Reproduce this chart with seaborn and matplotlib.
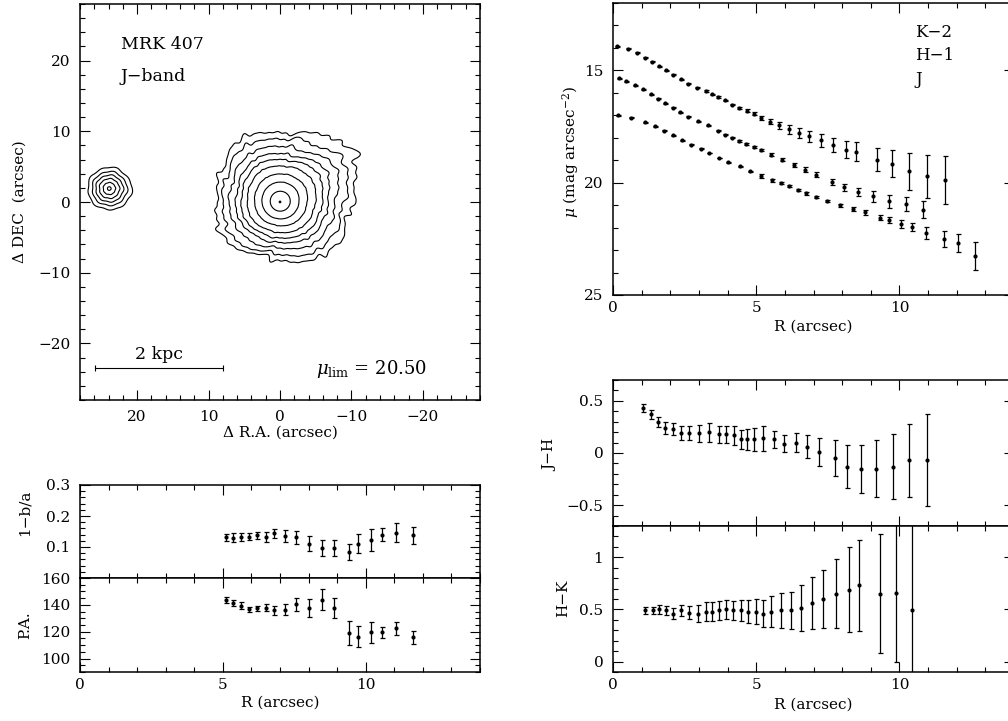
import numpy as np
import pandas as pd
import seaborn as sns
import matplotlib
matplotlib.use("Agg")
import matplotlib.pyplot as plt
from matplotlib.ticker import MultipleLocator, FixedLocator, FuncFormatter

# ---------------- data ----------------
# surface-brightness profiles (top right)
r_K = [0.13, 0.51, 0.85, 1.13, 1.37, 1.60, 1.85, 2.10, 2.37, 2.63, 2.94, 3.23, 3.44, 3.66, 3.92, 4.15, 4.41,
       4.67, 4.92, 5.18, 5.49, 5.78, 6.14, 6.48, 6.85, 7.25, 7.69, 8.14, 8.49, 9.21, 9.74, 10.32, 10.97, 11.60]
mu_K = [13.92, 14.03, 14.21, 14.43, 14.61, 14.81, 15.00, 15.19, 15.40, 15.60, 15.77, 15.92, 16.07, 16.19, 16.34,
        16.52, 16.68, 16.79, 16.93, 17.11, 17.28, 17.44, 17.62, 17.78, 17.93, 18.11, 18.33, 18.53, 18.63, 18.97,
        19.15, 19.50, 19.72, 19.87]
e_K = [0.02, 0.02, 0.02, 0.02, 0.02, 0.02, 0.02, 0.02, 0.02, 0.02, 0.03, 0.03, 0.03, 0.03, 0.03, 0.04, 0.05,
       0.06, 0.07, 0.10, 0.12, 0.15, 0.19, 0.21, 0.24, 0.28, 0.32, 0.37, 0.42, 0.52, 0.60, 0.84, 0.95, 1.07]

r_H = [0.22, 0.47, 0.76, 1.05, 1.31, 1.56, 1.83, 2.08, 2.34, 2.63, 2.97, 3.31, 3.66, 3.92, 4.15, 4.40, 4.64,
       4.91, 5.18, 5.53, 5.91, 6.31, 6.71, 7.10, 7.66, 8.08, 8.57, 9.08, 9.63, 10.22, 10.82]
mu_H = [15.36, 15.48, 15.66, 15.85, 16.07, 16.26, 16.47, 16.67, 16.86, 17.07, 17.26, 17.44, 17.68, 17.86, 18.00,
        18.15, 18.27, 18.41, 18.56, 18.75, 18.97, 19.20, 19.42, 19.64, 19.97, 20.20, 20.41, 20.61, 20.82, 20.94,
        21.20]
e_H = [0.02, 0.02, 0.02, 0.02, 0.02, 0.02, 0.02, 0.02, 0.02, 0.02, 0.02, 0.03, 0.03, 0.03, 0.03, 0.04, 0.04,
       0.04, 0.05, 0.06, 0.07, 0.09, 0.10, 0.10, 0.15, 0.16, 0.18, 0.23, 0.29, 0.31, 0.38]

r_J = [0.18, 0.64, 1.10, 1.45, 1.77, 2.10, 2.42, 2.73, 3.06, 3.34, 3.69, 4.03, 4.44, 4.80, 5.18, 5.56, 5.85,
       6.13, 6.45, 6.73, 7.10, 7.48, 7.94, 8.37, 8.79, 9.32, 9.64, 10.07, 10.45, 10.94, 11.54, 12.03, 12.63]
mu_J = [16.99, 17.11, 17.31, 17.49, 17.68, 17.89, 18.11, 18.30, 18.48, 18.68, 18.90, 19.09, 19.27, 19.50, 19.69,
        19.90, 20.03, 20.16, 20.34, 20.48, 20.64, 20.82, 21.01, 21.16, 21.32, 21.55, 21.65, 21.84, 21.98, 22.25,
        22.51, 22.69, 23.26]
e_J = [0.02, 0.02, 0.02, 0.02, 0.02, 0.02, 0.02, 0.02, 0.02, 0.02, 0.02, 0.03, 0.03, 0.04, 0.08, 0.05, 0.04,
       0.05, 0.05, 0.05, 0.06, 0.06, 0.07, 0.09, 0.10, 0.13, 0.13, 0.17, 0.19, 0.27, 0.35, 0.41, 0.63]

# colour profiles
r_JH = [1.03, 1.32, 1.56, 1.82, 2.10, 2.37, 2.64, 3.00, 3.36, 3.70, 3.95, 4.21, 4.47, 4.69, 4.93, 5.24, 5.61,
        5.98, 6.39, 6.78, 7.20, 7.75, 8.18, 8.66, 9.19, 9.76, 10.34, 10.96]
jh = [0.43, 0.37, 0.30, 0.24, 0.23, 0.19, 0.19, 0.19, 0.20, 0.18, 0.18, 0.17, 0.13, 0.13, 0.13, 0.14, 0.13,
      0.09, 0.10, 0.06, 0.01, -0.05, -0.13, -0.15, -0.15, -0.13, -0.07, -0.07]
e_jh = [0.04, 0.045, 0.05, 0.055, 0.055, 0.07, 0.07, 0.08, 0.09, 0.08, 0.08, 0.09, 0.09, 0.10, 0.11, 0.12, 0.08,
        0.08, 0.09, 0.11, 0.13, 0.17, 0.21, 0.23, 0.27, 0.31, 0.35, 0.44]

r_HK = [1.11, 1.38, 1.61, 1.84, 2.10, 2.37, 2.64, 2.97, 3.23, 3.46, 3.70, 3.95, 4.20, 4.47, 4.73, 4.99, 5.24,
        5.53, 5.85, 6.20, 6.56, 6.94, 7.32, 7.79, 8.25, 8.60, 9.33, 9.87, 10.45]
hk = [0.49, 0.49, 0.50, 0.49, 0.46, 0.49, 0.47, 0.46, 0.48, 0.48, 0.49, 0.50, 0.49, 0.49, 0.48, 0.48, 0.46,
      0.48, 0.49, 0.49, 0.51, 0.56, 0.60, 0.65, 0.69, 0.73, 0.65, 0.66, 0.49]
e_hk = [0.035, 0.035, 0.04, 0.045, 0.05, 0.055, 0.06, 0.08, 0.09, 0.095, 0.09, 0.09, 0.095, 0.10, 0.11, 0.12,
        0.13, 0.15, 0.17, 0.18, 0.22, 0.25, 0.28, 0.33, 0.41, 0.44, 0.57, 0.66, 1.0]

# ellipticity and position angle (bottom left)
r_ell = [5.12, 5.37, 5.63, 5.90, 6.19, 6.51, 6.80, 7.17, 7.56, 8.02, 8.47, 8.90, 9.40, 9.73, 10.17, 10.58,
         11.07, 11.65]
ell = [0.131, 0.130, 0.133, 0.133, 0.138, 0.133, 0.144, 0.136, 0.131, 0.111, 0.098, 0.098, 0.084, 0.111, 0.122,
       0.140, 0.146, 0.138]
e_ell = [0.011, 0.014, 0.013, 0.011, 0.011, 0.016, 0.014, 0.019, 0.022, 0.023, 0.026, 0.026, 0.026, 0.030,
         0.035, 0.020, 0.030, 0.027]
pa = [143.8, 141.3, 139.3, 136.8, 137.5, 138.0, 135.8, 136.3, 140.5, 137.5, 143.8, 137.5, 118.8, 116.3, 119.5,
      119.5, 122.5, 115.8]
e_pa = [2.3, 2.5, 2.6, 1.9, 1.9, 2.8, 3.1, 4.0, 4.8, 6.5, 7.8, 7.3, 9.0, 8.0, 8.0, 4.0, 5.0, 4.8]

# isophote map (top left): isophote radii (arcsec) of the galaxy and its companion
main_center = (0.0, 0.0)          # (RA, DEC) offset
main_radii = [0.12, 1.4, 2.6, 3.7, 4.8, 5.7, 6.5, 7.5, 8.6, 9.6]
comp_center = (23.9, 1.9)
comp_radii = [0.25, 0.85, 1.4, 1.9, 2.4, 3.0]
scale_bar_ra = [25.85, 8.0]
mu_lim = "20.50"

# ---------------- style ----------------
sns.set_theme(style="ticks")
plt.rcParams["font.family"] = ["DejaVu Serif"]
plt.rcParams["mathtext.fontset"] = "dejavuserif"
plt.rcParams["axes.unicode_minus"] = True
for key in ["text.color", "axes.labelcolor", "xtick.color", "ytick.color", "axes.edgecolor",
            "xtick.labelcolor", "ytick.labelcolor"]:
    plt.rcParams[key] = "black"
TF = 11  # tick font size

W, H = 1008, 721
fig = plt.figure(figsize=(W / 100, H / 100), dpi=100)
fig.patch.set_facecolor("white")


def ax_px(l, t, r, b):
    ax = fig.add_axes([l / W, 1 - b / H, (r - l) / W, (b - t) / H])
    ax.set_facecolor("white")
    for s in ax.spines.values():
        s.set_linewidth(1.1)
        s.set_color("black")
        s.set_visible(True)
    ax.tick_params(which="both", direction="in", top=True, right=True, colors="black",
                   labelcolor="black", labelsize=TF, width=0.8)
    ax.tick_params(which="major", length=7)
    ax.tick_params(which="minor", length=3.5)
    ax.tick_params(axis="y", pad=7)
    ax.tick_params(axis="x", pad=4)
    return ax


def fmt(v, pos):
    s = f"{v:g}"
    return s.replace("-", "\u2212")


def err_plot(ax, x, y, e):
    df = pd.DataFrame({"x": x, "y": y})
    ax.errorbar(x, y, yerr=e, fmt="none", ecolor="black", elinewidth=0.9, capsize=1.8,
                capthick=0.9, zorder=2)
    sns.scatterplot(data=df, x="x", y="y", ax=ax, color="black", s=9, linewidth=0,
                    marker="o", zorder=3, legend=False)


# ---------------- contour map ----------------
axc = ax_px(80, 4, 480, 400)
g = np.linspace(-29, 29, 900)
RA, DEC = np.meshgrid(g, g)
rho0 = np.hypot(RA - main_center[0], DEC - main_center[1])
cu = -main_center[0] + 0.025 * rho0          # screen-u centre drift
cv = main_center[1] + 0.08 * rho0
du = -RA - cu
dv = DEC - cv
rho = np.hypot(du, dv)
th = np.arctan2(dv, du)
gb = np.clip((rho - 2.0) / 7.5, 0, 1.3)
gw = np.clip(rho / 9.0, 0, 1.3)
gw2 = gw ** 1.5
shape = (1 + gb * (0.05 * np.cos(4 * (th - np.deg2rad(35)))
                   + 0.045 * np.cos(th - np.deg2rad(10))
                   + 0.06 * np.exp(-((np.angle(np.exp(1j * (th - np.deg2rad(30))))) / 0.3) ** 2)
                   - 0.03 * np.cos(2 * (th - np.deg2rad(90)))))
for k, a, ph in [(5, 0.012, 2.2), (7, 0.014, 0.4), (11, 0.016, 1.9), (15, 0.014, 3.1), (21, 0.012, 0.7),
                 (29, 0.010, 2.5), (37, 0.008, 4.2), (47, 0.006, 1.3)]:
    shape = shape + gw2 * a * np.sin(k * th + ph + 1.3 * rho)
F_main = rho / shape

dcu = -(RA - comp_center[0])
dcv = DEC - comp_center[1]
rc = np.hypot(dcu, dcv)
thc = np.arctan2(dcv, dcu)
rc_eff = rc / (1 + 0.07 * np.clip(rc / 3, 0, 1) * np.exp(-((thc + 0.2) / 0.5) ** 2)
               + 0.025 * np.sin(9 * thc + rc) + 0.02 * np.sin(5 * thc + 1.0))
lev = main_radii[-len(comp_radii):]
F_comp = np.interp(rc_eff, [0.0] + comp_radii + [60.0],
                   [lev[0] - 0.8] + lev + [lev[-1] + 120.0])
F = np.minimum(F_main, F_comp)
axc.contour(RA, DEC, F, levels=main_radii, colors="black", linewidths=0.8)
axc.set_xlim(28, -28)
axc.set_ylim(-28, 28)
axc.set_aspect("auto")
axc.xaxis.set_major_locator(MultipleLocator(10))
axc.xaxis.set_minor_locator(MultipleLocator(2))
axc.yaxis.set_major_locator(MultipleLocator(10))
axc.yaxis.set_minor_locator(MultipleLocator(2))
axc.xaxis.set_major_formatter(FuncFormatter(fmt))
axc.yaxis.set_major_formatter(FuncFormatter(fmt))
axc.tick_params(axis="x", pad=7)
axc.set_xlabel("\u0394 R.A. (arcsec)", fontsize=11, va="center")
axc.xaxis.set_label_coords(0.5, -0.083)
axc.set_ylabel("\u0394 DEC  (arcsec)", fontsize=11, va="center")
axc.yaxis.set_label_coords(-0.15, 0.5)
axc.text(22.3, 22.3, "MRK 407", fontsize=12.5, ha="left", va="center")
axc.text(22.3, 17.75, "J\u2212band", fontsize=12.5, ha="left", va="center")
axc.plot(scale_bar_ra, [-23.5, -23.5], color="black", lw=0.8, marker="|", ms=4, mew=0.8)
axc.text(np.mean(scale_bar_ra), -21.6, "2 kpc", fontsize=12.5, ha="center", va="center")
axc.text(-5.0, -23.6, r"$\mu_{\rm lim}$ = " + mu_lim, fontsize=13, ha="left", va="center")

# ---------------- ellipticity / PA ----------------
ax_e = ax_px(80, 485, 480, 578)
err_plot(ax_e, r_ell, ell, e_ell)
ax_e.set_xlim(0, 14)
ax_e.set_ylim(0.0, 0.3)
ax_e.xaxis.set_major_locator(MultipleLocator(5))
ax_e.xaxis.set_minor_locator(MultipleLocator(1))
ax_e.yaxis.set_major_locator(FixedLocator([0.1, 0.2, 0.3]))
ax_e.yaxis.set_minor_locator(MultipleLocator(0.02))
ax_e.yaxis.set_major_formatter(FuncFormatter(fmt))
ax_e.tick_params(axis="x", labelbottom=False)
ax_e.set_xlabel("")
ax_e.set_ylabel("1\u2212b/a", fontsize=11, va="center")
ax_e.yaxis.set_label_coords(-0.1375, 0.70)

ax_p = ax_px(80, 578, 480, 672)
err_plot(ax_p, r_ell, pa, e_pa)
ax_p.set_xlim(0, 14)
ax_p.set_ylim(90, 160)
ax_p.xaxis.set_major_locator(MultipleLocator(5))
ax_p.xaxis.set_minor_locator(MultipleLocator(1))
ax_p.yaxis.set_major_locator(MultipleLocator(20))
ax_p.yaxis.set_minor_locator(MultipleLocator(5))
ax_p.xaxis.set_major_formatter(FuncFormatter(fmt))
ax_p.yaxis.set_major_formatter(FuncFormatter(fmt))
ax_p.set_xlabel("R (arcsec)", fontsize=11, va="center")
ax_p.xaxis.set_label_coords(0.5, -0.33)
ax_p.set_ylabel("P.A.", fontsize=11, va="center")
ax_p.yaxis.set_label_coords(-0.1375, 0.5)

# ---------------- surface brightness ----------------
ax_m = ax_px(613, 3, 1014, 295)
err_plot(ax_m, r_K, mu_K, e_K)
err_plot(ax_m, r_H, mu_H, e_H)
err_plot(ax_m, r_J, mu_J, e_J)
ax_m.set_xlim(0, 14)
ax_m.set_ylim(25, 12)
ax_m.xaxis.set_major_locator(MultipleLocator(5))
ax_m.xaxis.set_minor_locator(MultipleLocator(1))
ax_m.yaxis.set_major_locator(MultipleLocator(5))
ax_m.yaxis.set_minor_locator(MultipleLocator(1))
ax_m.xaxis.set_major_formatter(FuncFormatter(fmt))
ax_m.yaxis.set_major_formatter(FuncFormatter(fmt))
ax_m.set_xlabel("R (arcsec)", fontsize=11, va="center")
ax_m.xaxis.set_label_coords(0.5, -0.11)
ax_m.set_ylabel(r"$\mu$ (mag arcsec$^{-2}$)", fontsize=11, va="center")
ax_m.yaxis.set_label_coords(-0.105, 0.49)
for lab, yv in [("K\u22122", 13.3), ("H\u22121", 14.33), ("J", 15.42)]:
    ax_m.text(10.56, yv, lab, fontsize=12, ha="left", va="center")

# ---------------- colours ----------------
ax_jh = ax_px(613, 380, 1014, 526)
err_plot(ax_jh, r_JH, jh, e_jh)
ax_jh.set_xlim(0, 14)
ax_jh.set_ylim(-0.7, 0.7)
ax_jh.xaxis.set_major_locator(MultipleLocator(5))
ax_jh.xaxis.set_minor_locator(MultipleLocator(1))
ax_jh.yaxis.set_major_locator(MultipleLocator(0.5))
ax_jh.yaxis.set_minor_locator(MultipleLocator(0.1))
ax_jh.yaxis.set_major_formatter(FuncFormatter(fmt))
ax_jh.tick_params(axis="x", labelbottom=False)
ax_jh.set_xlabel("")
ax_jh.set_ylabel("J\u2212H", fontsize=11, va="center")
ax_jh.yaxis.set_label_coords(-0.157, 0.486)

ax_hk = ax_px(613, 526, 1014, 672)
err_plot(ax_hk, r_HK, hk, e_hk)
ax_hk.set_xlim(0, 14)
ax_hk.set_ylim(-0.1, 1.3)
ax_hk.xaxis.set_major_locator(MultipleLocator(5))
ax_hk.xaxis.set_minor_locator(MultipleLocator(1))
ax_hk.yaxis.set_major_locator(MultipleLocator(0.5))
ax_hk.yaxis.set_minor_locator(MultipleLocator(0.1))
ax_hk.xaxis.set_major_formatter(FuncFormatter(fmt))
ax_hk.yaxis.set_major_formatter(FuncFormatter(fmt))
ax_hk.set_xlabel("R (arcsec)", fontsize=11, va="center")
ax_hk.xaxis.set_label_coords(0.5, -0.226)
ax_hk.set_ylabel("H\u2212K", fontsize=11, va="center")
ax_hk.yaxis.set_label_coords(-0.125, 0.507)

fig.savefig("out.png", dpi=100, facecolor="white")
